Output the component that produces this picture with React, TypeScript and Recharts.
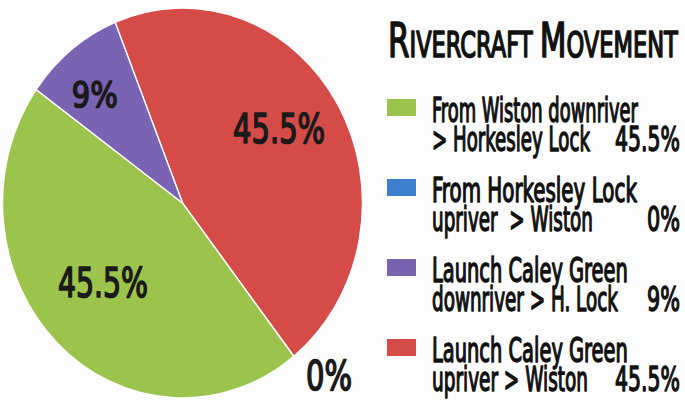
import React from 'react';
import { PieChart, Pie, Cell, Legend } from 'recharts';

// ---- data ----
const categories: string[][] = [
  ['From Wiston downriver', '> Horkesley Lock'],
  ['From Horkesley Lock', 'upriver  > Wiston'],
  ['Launch Caley Green', 'downriver > H. Lock'],
  ['Launch Caley Green', 'upriver > Wiston'],
];
const values: number[] = [45.5, 0, 9, 45.5];
const colors: string[] = ['#9cc34c', '#3c7fcf', '#7b63b4', '#d44b48'];
const titleWords: string[] = ['Rivercraft', 'Movement'];
// clockwise drawing order of the slices (indices into categories)
const pieOrder: number[] = [3, 1, 0, 2];

// ---- layout ----
const S = 0.923; // horizontal squeeze of the whole picture
const W = 742;
const H = 401;
const FONT = "'DejaVu Sans Condensed', 'Liberation Sans Narrow', 'Roboto', sans-serif";
const WEIGHT = 'normal';
const u = (x: number) => x / S;

const legendBase = [122, 202, 282, 362];
const lineGap = 29;
const line1Len = [206, 205, 196, 196];
const line2Len = [158, 161, 186, 156];
const pctLen = [65, 33, 33, 65];

// label placement per slice: [angle shift (deg), radius factor, font size, width]
const labelPlace: Record<number, [number, number, number, number]> = {
  0: [-3.8, 0.6, 41, 90],
  1: [4.5, 1.2, 41, 46],
  2: [3, 0.74, 36, 46],
  3: [5.5, 0.66, 41, 92],
};

let ctx: CanvasRenderingContext2D | null = null;
const measure = (text: string, size: number) => {
  if (!ctx) {
    const c = document.createElement('canvas');
    ctx = c.getContext('2d');
  }
  if (!ctx) return text.length * size * 0.5;
  ctx.font = `${WEIGHT} ${size}px ${FONT}`;
  return ctx.measureText(text).width;
};

const FitText = ({
  x,
  y,
  text,
  size,
  width,
  anchor = 'start',
  fill = '#111',
  weight = 1.4,
}: {
  x: number;
  y: number;
  text: string;
  size: number;
  width: number;
  anchor?: 'start' | 'middle' | 'end';
  fill?: string;
  weight?: number;
}) => {
  const k = width / measure(text, size);
  return (
    <text
      transform={`translate(${x} ${y}) scale(${k} 1)`}
      x={0}
      y={0}
      textAnchor={anchor}
      fontFamily={FONT}
      fontWeight={WEIGHT}
      fontSize={size}
      fill={fill}
      stroke={fill}
      strokeWidth={weight}
      strokeLinejoin="round"
      style={{ whiteSpace: 'pre' }}
    >
      {text}
    </text>
  );
};

const pieData = pieOrder.map((i) => ({
  idx: i,
  name: categories[i].join(' '),
  value: values[i],
  color: colors[i],
}));

const RAD = Math.PI / 180;

const renderLabel = (p: any) => {
  const idx = p.payload?.idx ?? pieData[p.index].idx;
  const [shift, rf, fs, w] = labelPlace[idx];
  const ang = p.midAngle + shift;
  const r = p.outerRadius * rf;
  const x = p.cx + r * Math.cos(-ang * RAD);
  const y = p.cy + r * Math.sin(-ang * RAD);
  return (
    <FitText
      key={`lbl-${idx}`}
      x={x}
      y={y + fs * 0.36}
      anchor="middle"
      text={`${values[idx]}%`}
      size={fs}
      width={u(w)}
      fill="#1a1a1a"
      weight={1.6}
    />
  );
};

const Title = () => {
  const pieces: { t: string; s: number }[] = [];
  titleWords.forEach((w, i) => {
    pieces.push({ t: w.charAt(0).toUpperCase(), s: 48 });
    pieces.push({ t: w.slice(1).toUpperCase() + (i < titleWords.length - 1 ? ' ' : ''), s: 35 });
  });
  const natural = pieces.reduce((a, p) => a + measure(p.t, p.s), 0);
  const k = u(290) / natural;
  return (
    <text
      transform={`translate(${u(388)} 57) scale(${k} 1)`}
      x={0}
      y={0}
      fontFamily={FONT}
      fontWeight={WEIGHT}
      fill="#111"
      stroke="#111"
      strokeWidth={1.6}
      strokeLinejoin="round"
      style={{ whiteSpace: 'pre' }}
    >
      {pieces.map((p, i) => (
        <tspan key={i} fontSize={p.s}>
          {p.t}
        </tspan>
      ))}
    </text>
  );
};

const LegendContent = () => (
  <svg width={W} height={H} style={{ position: 'absolute', left: 0, top: 0 }}>
    <Title />
    {categories.map((lines, i) => {
      const b = legendBase[i];
      return (
        <g key={i}>
          <rect x={u(387)} y={b - 23} width={u(29)} height={17} fill={colors[i]} />
          <FitText x={u(432)} y={b} text={lines[0]} size={34} width={u(line1Len[i])} />
          <FitText x={u(432)} y={b + lineGap} text={lines[1]} size={34} width={u(line2Len[i])} />
          <FitText
            x={u(680)}
            y={b + lineGap}
            anchor="end"
            text={`${values[i]}%`}
            size={34}
            width={u(pctLen[i])}
          />
        </g>
      );
    })}
  </svg>
);

export default function App() {
  return (
    <div
      style={{
        position: 'fixed',
        left: 0,
        top: 0,
        width: 685,
        height: 401,
        overflow: 'hidden',
        background: '#fdfdfd',
      }}
    >
      <div style={{ transform: `scaleX(${S})`, transformOrigin: '0 0', width: W, height: H }}>
        <PieChart width={W} height={H} margin={{ top: 0, right: 0, bottom: 0, left: 0 }}>
          <Pie
            data={pieData}
            dataKey="value"
            nameKey="name"
            cx={u(182.5)}
            cy={203}
            outerRadius={195}
            startAngle={112}
            endAngle={-248}
            stroke="#ffffff"
            strokeWidth={1.5}
            label={renderLabel}
            labelLine={false}
            isAnimationActive={false}
          >
            {pieData.map((d) => (
              <Cell key={d.idx} fill={d.color} />
            ))}
          </Pie>
          <Legend
            layout="horizontal"
            align="center"
            verticalAlign="middle"
            content={LegendContent}
            wrapperStyle={{ left: 0, top: 0, width: W, height: H }}
          />
        </PieChart>
      </div>
    </div>
  );
}
